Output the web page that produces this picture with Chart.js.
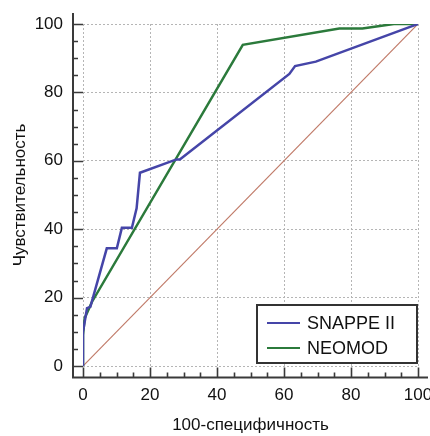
<!DOCTYPE html>
<html><head><meta charset="utf-8">
<script src="https://cdn.jsdelivr.net/npm/chart.js@4/dist/chart.umd.min.js"></script>
<style>html,body{margin:0;padding:0;background:#fff}#wrap{width:430px;height:436px}</style>
</head><body><div id="wrap"><canvas id="c" width="430" height="436"></canvas></div>
<script>
const seriesNames = ["SNAPPE II", "NEOMOD"];
const snappeX = [0, 0, 1.2, 2.2, 7.1, 10.1, 11.6, 14.6, 16, 17, 27.9, 28.9, 61.6, 63.3, 69.5, 100];
const snappeY = [0, 10, 16.9, 17.3, 34.4, 34.4, 40.4, 40.4, 46.1, 56.5, 60.4, 60.4, 85.4, 87.7, 89, 100];
const neomodX = [0, 0, 0.5, 2.7, 47.7, 76.5, 83.4, 92.8, 100];
const neomodY = [0, 9, 14, 18.8, 93.9, 98.7, 98.7, 100, 100];
const refX = [0, 100];
const refY = [0, 100];
const tickValues = [0, 20, 40, 60, 80, 100];
const xTitle = "100-специфичность";
const yTitle = "Чувствительность";

const pts = (xs, ys) => xs.map((x, i) => ({x: x, y: ys[i]}));
const FONT = "'Liberation Sans', Arial, Helvetica, sans-serif";

const axesPlugin = {
  id: 'offsetAxes',
  afterDraw(chart) {
    const ctx = chart.ctx, xs = chart.scales.x, ys = chart.scales.y;
    const ax = Math.round(xs.getPixelForValue(0)) - 10;
    const ay = Math.round(ys.getPixelForValue(0)) + 11.5;
    ctx.save();
    ctx.strokeStyle = '#3a3a3a';
    ctx.lineWidth = 2;
    ctx.lineCap = 'butt';
    ctx.beginPath();
    ctx.moveTo(ax, ys.getPixelForValue(100) - 11);
    ctx.lineTo(ax, ay);
    ctx.lineTo(xs.getPixelForValue(100) + 10, ay);
    ctx.stroke();
    ctx.lineWidth = 1.6;
    ctx.beginPath();
    for (let v = 0; v <= 100; v += 5) {
      const len = v % 20 === 0 ? 10 : 5;
      const py = Math.round(ys.getPixelForValue(v)) + 0.5;
      ctx.moveTo(ax, py); ctx.lineTo(ax + len, py);
      const px = Math.round(xs.getPixelForValue(v)) + 0.5;
      ctx.moveTo(px, ay); ctx.lineTo(px, ay - len);
    }
    ctx.stroke();
    // legend box
    const bx = 257, by = 305, bw = 160, bh = 58;
    ctx.fillStyle = '#fff';
    ctx.fillRect(bx, by, bw, bh);
    ctx.strokeStyle = '#333';
    ctx.lineWidth = 2;
    ctx.strokeRect(bx, by, bw, bh);
    ctx.font = '18px ' + FONT;
    ctx.textBaseline = 'middle';
    [0, 1].forEach((di, k) => {
      const ds = chart.data.datasets[di];
      const ly = by + 18 + k * 25;
      ctx.strokeStyle = ds.borderColor;
      ctx.lineWidth = 2;
      ctx.beginPath(); ctx.moveTo(bx + 10, ly); ctx.lineTo(bx + 43, ly); ctx.stroke();
      ctx.fillStyle = '#111';
      ctx.fillText(ds.label, bx + 50, ly + 1);
    });
    ctx.restore();
  }
};

new Chart(document.getElementById('c'), {
  type: 'line',
  data: {
    datasets: [
      {label: seriesNames[0], data: pts(snappeX, snappeY), borderColor: '#4545a8', borderWidth: 2.5, pointRadius: 0, tension: 0, fill: false},
      {label: seriesNames[1], data: pts(neomodX, neomodY), borderColor: '#2b7a3b', borderWidth: 2.5, pointRadius: 0, tension: 0, fill: false},
      {label: 'ref', data: pts(refX, refY), borderColor: '#c07a68', borderWidth: 1.2, pointRadius: 0, tension: 0, fill: false, order: 5}
    ]
  },
  options: {
    responsive: false,
    animation: false,
    layout: {padding: {left: 6, top: 24, right: 0, bottom: 0}},
    plugins: {legend: {display: false}, tooltip: {enabled: false}},
    scales: {
      x: {
        type: 'linear', min: 0, max: 100,
        afterBuildTicks: s => { s.ticks = tickValues.map(v => ({value: v})); },
        afterFit: s => { s.height = 70; s.paddingRight = 12; s.paddingLeft = 0; },
        border: {display: false, dash: [2, 2]},
        grid: {color: '#b5b5b5', lineWidth: 1, drawTicks: false},
        ticks: {padding: 19, color: '#111', font: {family: FONT, size: 17}, maxRotation: 0},
        title: {display: true, text: xTitle, color: '#111', font: {family: FONT, size: 17}, padding: {top: 8, bottom: 0}}
      },
      y: {
        type: 'linear', min: 0, max: 100,
        afterBuildTicks: s => { s.ticks = tickValues.map(v => ({value: v})); },
        afterFit: s => { s.width = 77; s.paddingTop = 0; s.paddingBottom = 0; },
        border: {display: false, dash: [2, 2]},
        grid: {color: '#b5b5b5', lineWidth: 1, drawTicks: false},
        ticks: {padding: 20, color: '#111', font: {family: FONT, size: 17}},
        title: {display: true, text: yTitle, color: '#111', font: {family: FONT, size: 17}, padding: {top: 4, bottom: 4}}
      }
    }
  },
  plugins: [axesPlugin]
});
</script></body></html>
